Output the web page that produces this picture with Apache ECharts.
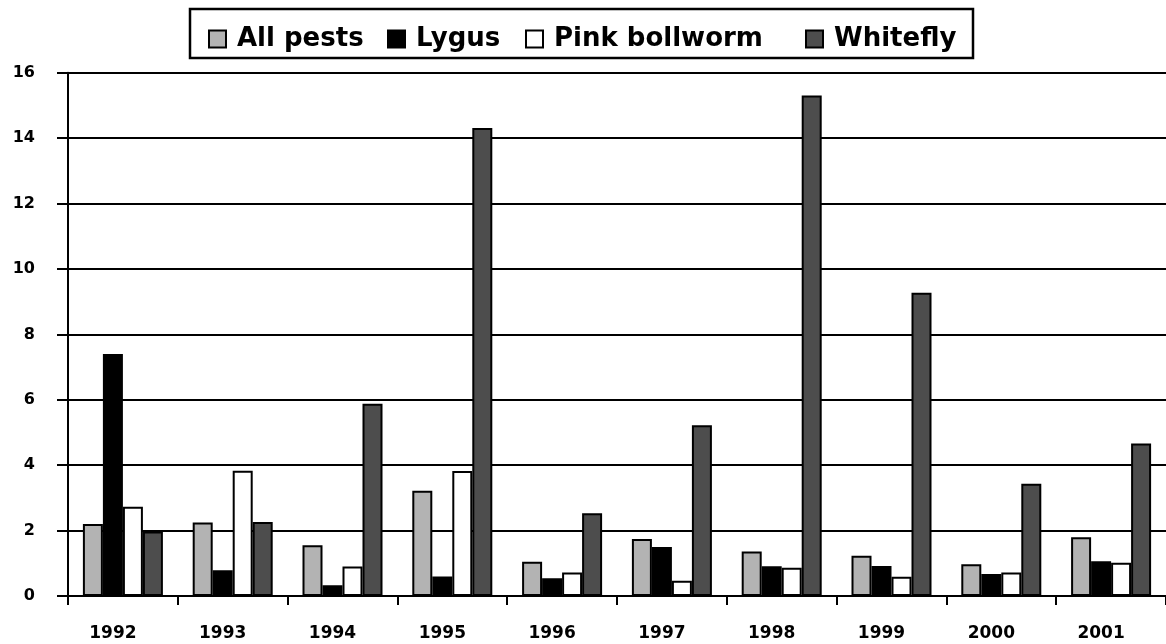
<!DOCTYPE html>
<html>
<head>
<meta charset="utf-8">
<script src="https://cdn.jsdelivr.net/npm/echarts@6/dist/echarts.min.js"></script>
<style>
  html, body { margin: 0; padding: 0; background: #fff; }
  #main { width: 1166px; height: 644px; }
</style>
</head>
<body>
<div id="main"></div>
<script>
// values
var years = ['1992', '1993', '1994', '1995', '1996', '1997', '1998', '1999', '2000', '2001'];
var allPests = [2.2, 2.25, 1.55, 3.22, 1.05, 1.74, 1.36, 1.23, 0.97, 1.8];
var lygus = [7.4, 0.79, 0.33, 0.6, 0.54, 1.5, 0.91, 0.92, 0.67, 1.06];
var pinkBollworm = [2.73, 3.83, 0.9, 3.82, 0.72, 0.47, 0.86, 0.59, 0.72, 1.02];
var whitefly = [1.97, 2.26, 5.88, 14.31, 2.53, 5.22, 15.3, 9.27, 3.43, 4.66];

var chart = echarts.init(document.getElementById('main'));

var font = 'DejaVu Sans';

function legendAt(name, left) {
    return {
        data: [name],
        left: left,
        top: 21,
        icon: 'rect',
        itemWidth: 17,
        itemHeight: 17,
        selectedMode: false,
        itemStyle: { borderColor: '#000', borderWidth: 2 },
        textStyle: {
            fontFamily: font,
            fontWeight: 'bold',
            fontSize: 26,
            color: '#000',
            lineHeight: 26,
            padding: [0, 0, 0, 6]
        }
    };
}

function barSeries(name, data, color) {
    return {
        name: name,
        type: 'bar',
        data: data,
        barWidth: 20,
        barGap: '0%',
        itemStyle: {
            color: color,
            borderColor: '#000',
            borderWidth: 2
        }
    };
}

option = {
    backgroundColor: '#fff',
    animation: false,
    grid: {
        left: 68,
        right: -2,
        top: 72.7,
        bottom: 48
    },
    graphic: [
        {
            type: 'rect',
            shape: { x: 190, y: 9, width: 783, height: 49 },
            style: { fill: null, stroke: '#000', lineWidth: 2.5 }
        }
    ],
    legend: [
        legendAt('All pests', 203),
        legendAt('Lygus', 382),
        legendAt('Pink bollworm', 520),
        legendAt('Whitefly', 800)
    ],
    xAxis: {
        type: 'category',
        data: years,
        axisLine: { lineStyle: { color: '#000', width: 2 } },
        axisTick: { show: true, length: 9, lineStyle: { color: '#000', width: 2 } },
        axisLabel: {
            margin: 29,
            fontFamily: font,
            fontWeight: 'bold',
            fontSize: 17,
            color: '#000',
            padding: [0, 20, 0, 0]
        }
    },
    yAxis: {
        type: 'value',
        min: 0,
        max: 16,
        interval: 2,
        axisLine: { show: true, lineStyle: { color: '#000', width: 2 } },
        axisTick: { show: true, length: 11, lineStyle: { color: '#000', width: 2 } },
        splitLine: { lineStyle: { color: '#000', width: 2 } },
        axisLabel: {
            margin: 33,
            fontFamily: font,
            fontWeight: 'bold',
            fontSize: 16,
            color: '#000'
        }
    },
    series: [
        barSeries('All pests', allPests, '#b3b3b3'),
        barSeries('Lygus', lygus, '#000000'),
        barSeries('Pink bollworm', pinkBollworm, '#ffffff'),
        barSeries('Whitefly', whitefly, '#4d4d4d')
    ]
};

chart.setOption(option);
</script>
</body>
</html>
